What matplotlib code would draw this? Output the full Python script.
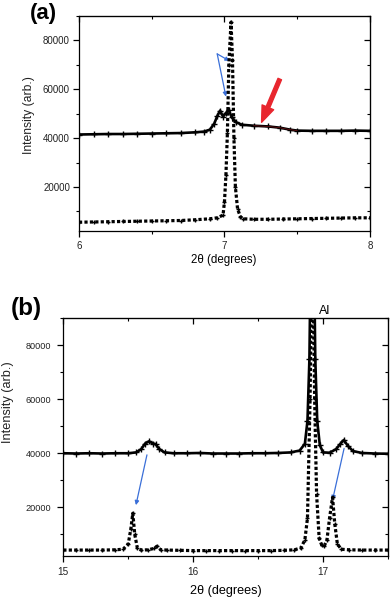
import matplotlib
matplotlib.use('Agg')
import matplotlib.pyplot as plt
from matplotlib.ticker import MultipleLocator

plt.rcParams['font.family'] = ['Liberation Sans', 'DejaVu Sans']

# panel (a): 2theta 6 - 8 deg
a_solid_x = [6.00, 6.10, 6.20, 6.30, 6.40, 6.50, 6.60, 6.70, 6.80, 6.86, 6.90, 6.93,
             6.95, 6.97, 6.99, 7.01, 7.03, 7.05, 7.08, 7.12, 7.20, 7.30, 7.38, 7.45,
             7.50, 7.60, 7.70, 7.80, 7.90, 8.00]
a_solid_y = [41500, 41600, 41700, 41700, 41800, 41900, 42000, 42100, 42400, 42700, 43500, 46000,
             49000, 51300, 48800, 50300, 51600, 48500, 46500, 45500, 45100, 44800, 44300, 43500,
             43100, 43000, 43000, 43000, 43100, 43000]
a_dot_x = [6.00, 6.10, 6.20, 6.30, 6.40, 6.50, 6.60, 6.70, 6.80, 6.90, 6.95, 6.99,
           7.00, 7.01, 7.02, 7.03, 7.045, 7.055, 7.065, 7.075, 7.09, 7.11, 7.13, 7.20,
           7.30, 7.40, 7.50, 7.60, 7.70, 7.80, 7.90, 8.00]
a_dot_y = [5600, 5700, 5800, 5900, 6000, 6100, 6200, 6300, 6600, 7000, 7400, 8500,
           14000, 25000, 42000, 70000, 87500, 72000, 40000, 20000, 11000, 7800, 7000, 6800,
           6800, 6900, 7000, 7100, 7200, 7300, 7400, 7400]

# panel (b): 2theta 15 - 17.5 deg
b_solid_x = [15.00, 15.10, 15.20, 15.30, 15.40, 15.50, 15.56, 15.60, 15.63, 15.66, 15.69, 15.71,
             15.74, 15.78, 15.85, 15.95, 16.05, 16.15, 16.25, 16.35, 16.45, 16.55, 16.65, 16.75,
             16.82, 16.86, 16.88, 16.895, 16.90, 16.918, 16.935, 16.94, 16.955, 16.975, 17.00, 17.05,
             17.10, 17.13, 17.16, 17.19, 17.23, 17.30, 17.40, 17.50]
b_solid_y = [40000, 39900, 40000, 39900, 40000, 40000, 40300, 41500, 43600, 44400, 43600, 43400,
             41500, 40300, 40000, 40000, 40100, 39900, 39900, 39900, 40000, 40000, 40100, 40300,
             41000, 43500, 52000, 75000, 95000, 130000, 95000, 75000, 52000, 43000, 40300, 40200,
             41500, 43300, 44900, 42800, 40800, 40100, 39900, 39800]
b_dot_x = [15.00, 15.10, 15.20, 15.30, 15.40, 15.46, 15.50, 15.52, 15.535, 15.55, 15.57, 15.60,
           15.65, 15.70, 15.72, 15.75, 15.80, 15.90, 16.00, 16.10, 16.20, 16.30, 16.40, 16.50,
           16.60, 16.70, 16.78, 16.83, 16.86, 16.88, 16.90, 16.918, 16.935, 16.95, 16.97, 16.99,
           17.01, 17.03, 17.05, 17.073, 17.09, 17.11, 17.14, 17.20, 17.30, 17.40, 17.50]
b_dot_y = [4200, 4200, 4200, 4200, 4300, 4500, 6500, 12000, 17800, 10000, 5000, 4200,
           4300, 4800, 5600, 4300, 4200, 4100, 4000, 4000, 4000, 4000, 4000, 4000,
           4000, 4100, 4300, 5000, 8000, 16000, 60000, 130000, 60000, 25000, 8500, 6000,
           5800, 8000, 16000, 23700, 14000, 6500, 4500, 4300, 4200, 4200, 4200]

BLUE = '#3a6fd8'
RED = '#e8262e'

fig = plt.figure(figsize=(3.92, 5.98), dpi=100)
ax1 = fig.add_axes([0.2015, 0.6137, 0.7423, 0.3595])
ax2 = fig.add_axes([0.1615, 0.0702, 0.8283, 0.398])


def style(ax, xlim, ytick_fs, xtick_fs, ypad, xpad):
    ax.set_xlim(*xlim)
    ax.set_ylim(2000, 90000)
    ax.xaxis.set_major_locator(MultipleLocator(1))
    ax.xaxis.set_minor_locator(MultipleLocator(0.5))
    ax.yaxis.set_major_locator(MultipleLocator(20000))
    ax.yaxis.set_minor_locator(MultipleLocator(10000))
    ax.tick_params(which='both', direction='out', top=False, right=False,
                   labelcolor='#222222')
    ax.tick_params(which='major', length=4, width=0.9)
    ax.tick_params(which='minor', length=2.5, width=0.8)
    ax.tick_params(axis='y', pad=ypad, labelsize=ytick_fs)
    ax.tick_params(axis='x', pad=xpad, labelsize=xtick_fs)
    for s in ax.spines.values():
        s.set_linewidth(0.9)
    top = ax.secondary_xaxis('top')
    top.xaxis.set_major_locator(MultipleLocator(1))
    top.xaxis.set_minor_locator(MultipleLocator(0.5))
    top.tick_params(which='both', direction='in', labeltop=False)
    top.tick_params(which='major', length=4, width=0.9)
    top.tick_params(which='minor', length=2.5, width=0.8)
    right = ax.secondary_yaxis('right')
    right.yaxis.set_major_locator(MultipleLocator(20000))
    right.yaxis.set_minor_locator(MultipleLocator(10000))
    right.tick_params(which='both', direction='in', labelright=False)
    right.tick_params(which='major', length=4, width=0.9)
    right.tick_params(which='minor', length=2.5, width=0.8)


def draw(ax, sx, sy, dx, dy):
    ax.plot(sx, sy, color='black', lw=1.9, marker='+', ms=4, mew=1.0, zorder=3)
    ax.plot(dx, dy, color='black', lw=2.3, linestyle=(0, (1, 0.7)),
            dash_capstyle='butt', marker='+', ms=3.5, mew=1.0, zorder=4)


# (a)
draw(ax1, a_solid_x, a_solid_y, a_dot_x, a_dot_y)
ax1.plot(a_solid_x[20:25], a_solid_y[20:25], color=RED, lw=0.5, alpha=0.5, zorder=5)
style(ax1, (6, 8), 7, 7, 2.5, 3)
ax1.set_xlabel('2θ (degrees)', fontsize=8.3, va='center')
ax1.xaxis.set_label_coords(0.498, -0.137)
ax1.set_ylabel('Intensity (arb.)', fontsize=8.7, va='center', color='#222222')
ax1.yaxis.set_label_coords(-0.173, 0.54)
ax1.annotate('', xy=(7.035, 71600), xytext=(6.95, 74500),
             arrowprops=dict(arrowstyle='-|>', color=BLUE, lw=0.9,
                             mutation_scale=6, shrinkA=0, shrinkB=0))
ax1.annotate('', xy=(7.01, 57000), xytext=(6.95, 74500),
             arrowprops=dict(arrowstyle='-|>', color=BLUE, lw=0.9,
                             mutation_scale=6, shrinkA=0, shrinkB=0))
ax1.annotate('', xy=(7.255, 46500), xytext=(7.38, 64200),
             arrowprops=dict(arrowstyle='simple,head_length=1.3,head_width=1.0,tail_width=0.3',
                             color=RED, mutation_scale=9, shrinkA=0, shrinkB=0))
fig.text(43 / 392, 1 - 13 / 598, '(a)', fontsize=16, fontweight='bold',
         ha='center', va='center')

# (b)
draw(ax2, b_solid_x, b_solid_y, b_dot_x, b_dot_y)
style(ax2, (15, 17.5), 6.6, 7.2, 4.5, 4)
ax2.set_xlabel('2θ (degrees)', fontsize=9.1, va='center')
ax2.xaxis.set_label_coords(0.5, -0.147)
ax2.set_ylabel('Intensity (arb.)', fontsize=9.2, va='center', color='#222222')
ax2.yaxis.set_label_coords(-0.169, 0.645)
ax2.annotate('', xy=(15.559, 20800), xytext=(15.644, 39400),
             arrowprops=dict(arrowstyle='-|>', color=BLUE, lw=0.9,
                             mutation_scale=6, shrinkA=0, shrinkB=0))
ax2.annotate('', xy=(17.073, 22700), xytext=(17.162, 41800),
             arrowprops=dict(arrowstyle='-|>', color=BLUE, lw=0.9,
                             mutation_scale=6, shrinkA=0, shrinkB=0))
ax2.text(17.01, 1.005, 'Al', transform=ax2.get_xaxis_transform(),
         fontsize=9, ha='center', va='bottom')
fig.text(26 / 392, 1 - 308 / 598, '(b)', fontsize=17.5, fontweight='bold',
         ha='center', va='center')

fig.savefig('out.png', dpi=100)
